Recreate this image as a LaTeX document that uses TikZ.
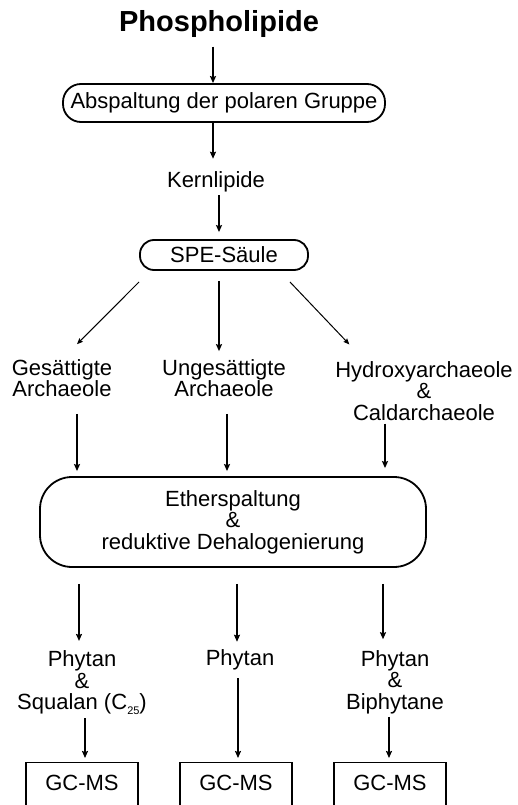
\documentclass[tikz,border=0pt]{standalone}
\usepackage{fontspec}
\setmainfont{Liberation Sans}
\usepackage{tikz}
\usetikzlibrary{arrows.meta, positioning}

\tikzset{
  roundbox/.style={draw, line width=1.8pt, rounded corners=#1, inner sep=2pt},
  gcbox/.style={draw, line width=1.3pt, minimum width=112pt, text height=16pt,
                text depth=28pt, inner ysep=12pt, anchor=north},
  thinarrow/.style={line width=1pt, -{Stealth[length=6pt,width=5pt,inset=1pt]}}
}
\newcommand{\tiefzahl}[1]{\raisebox{-5pt}{\fontsize{11}{11}\selectfont #1}}

\begin{document}
\begin{tikzpicture}[x=1pt, y=-1pt, ->, >={Stealth[length=7pt,width=6pt,inset=1pt]}, line width=2pt,
    every node/.style={font=\fontsize{22}{21.5}\selectfont, align=center, inner sep=2pt}]
      \useasboundingbox (0,0) rectangle (518,805);
      \clip (0,0) rectangle (518,805);

      % Ausgangsmaterial
      \node[font=\fontsize{29}{34}\selectfont\bfseries] (phos) at (219,24) {Phospholipide};
      \node[roundbox=18pt, minimum width=322pt, minimum height=38pt] (abs) at (224,103) {Abspaltung der polaren Gruppe};
      \node (kern) at (216,182) {Kernlipide};
      \node[roundbox=14pt, minimum width=168pt, minimum height=30pt] (spe) at (224,255) {SPE-Säule};

      % Fraktionen
      \node (gesat) at (62,378) {Gesättigte\\Archaeole};
      \node (ungesat) at (224,378) {Ungesättigte\\Archaeole};
      \node (hydrox) at (424,391) {Hydroxyarchaeole\\\&\\Caldarchaeole};

      % Spaltung
      \node[roundbox=32pt, minimum width=386pt, minimum height=90pt] (ether) at (233,522) {Etherspaltung\\\&\\reduktive Dehalogenierung};

      % Produkte
      \node (phyA) at (82,683) {Phytan\\\&\\Squalan (C\tiefzahl{25})};
      \node (phyB) at (240,660) {Phytan};
      \node (phyC) at (395,682) {Phytan\\\&\\Biphytane};

      % Analyse
      \node[gcbox] (gcA) at (82,762) {GC-MS};
      \node[gcbox] (gcB) at (236,762) {GC-MS};
      \node[gcbox] (gcC) at (390,762) {GC-MS};

      % Hauptstrang
      \draw[shorten <=6pt] ([xshift=-6pt]phos.south) -- ([xshift=-6pt]phos.south |- abs.north);
      \draw[shorten >=10pt] ([xshift=-11pt]abs.south) -- ([xshift=-11pt]abs.south |- kern.north);
      \draw[shorten >=7pt] ([xshift=3pt]kern.south) -- ([xshift=3pt]kern.south |- spe.north);

      % Verzweigung an der SPE-Saeule
      \draw[thinarrow] ([yshift=-11pt]spe.south west) -- ([xshift=15pt,yshift=12pt]gesat.north);
      \draw[shorten <=10pt, shorten >=5pt] ([xshift=-5pt]spe.south) -- ([xshift=-5pt]spe.south |- ungesat.north);
      \draw[thinarrow] ([xshift=-19pt,yshift=-11pt]spe.south east) -- ([xshift=17pt,yshift=14pt]hydrox.north west);

      % Zur Etherspaltung
      \draw[shorten <=14pt, shorten >=5pt] ([xshift=15pt]gesat.south) -- ([xshift=15pt]gesat.south |- ether.north);
      \draw[shorten <=14pt, shorten >=5pt] ([xshift=3pt]ungesat.south) -- ([xshift=3pt]ungesat.south |- ether.north);
      \draw[shorten >=8pt] ([xshift=-39pt]hydrox.south) -- ([xshift=-39pt]hydrox.south |- ether.north);

      % Zu den Produkten
      \draw[shorten <=16pt, shorten >=7pt] ([xshift=-3pt]phyA.north |- ether.south) -- ([xshift=-3pt]phyA.north);
      \draw[shorten <=16pt, shorten >=5pt] ([xshift=-3pt]phyB.north |- ether.south) -- ([xshift=-3pt]phyB.north);
      \draw[shorten <=16pt, shorten >=8pt] ([xshift=-12pt]phyC.north |- ether.south) -- ([xshift=-12pt]phyC.north);

      % Zur GC-MS
      \draw[shorten >=4pt] ([xshift=3pt]phyA.south) -- ([xshift=3pt]phyA.south |- gcA.north);
      \draw[shorten <=5pt, shorten >=4pt] ([xshift=-2pt]phyB.south) -- ([xshift=-2pt]phyB.south |- gcB.north);
      \draw[shorten >=4pt] ([xshift=-6pt]phyC.south) -- ([xshift=-6pt]phyC.south |- gcC.north);
\end{tikzpicture}
\end{document}
